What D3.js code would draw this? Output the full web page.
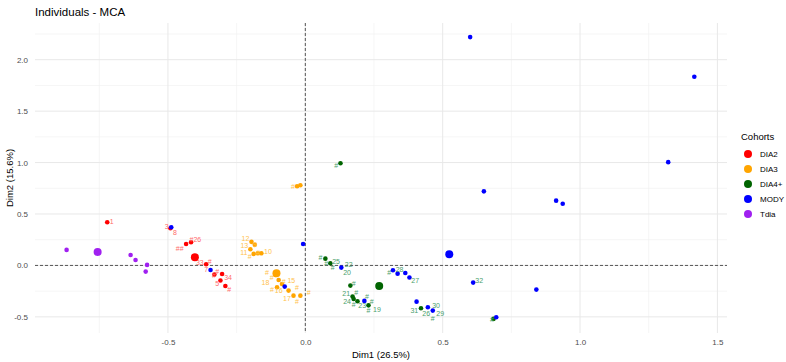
<!DOCTYPE html>
<html>
<head>
<meta charset="utf-8">
<script src="https://cdn.jsdelivr.net/npm/d3@7"></script>
<style>
  body { margin: 0; background: #fff; }
  svg { font-family: Arial, "Liberation Sans", sans-serif; }
</style>
</head>
<body>
<div id="chart"></div>
<script>
// cohorts + colours
var cohorts = ["DIA2", "DIA3", "DIA4+", "MODY", "Tdia"];
var cohortColors = ["#FF0000", "#FFA500", "#006400", "#0000FF", "#A020F0"];
var labelColors = ["#ff6b6b", "#ffc24d", "#4aa06c", "#4aa06c", "#c070f0"];

// individuals (Dim1, Dim2)
var dia2Points = [
    [-0.721, 0.420], [-0.491, 0.362], [-0.434, 0.209], [-0.416, 0.226],
    [-0.361, 0.012], [-0.331, -0.089], [-0.303, -0.083], [-0.309, -0.147],
    [-0.291, -0.200]
];
var dia3Points = [
    [-0.196, 0.229], [-0.184, 0.200], [-0.200, 0.157], [-0.188, 0.112],
    [-0.173, 0.118], [-0.160, 0.118], [-0.109, -0.092], [-0.097, -0.141],
    [-0.103, -0.212], [-0.085, -0.180], [-0.061, -0.245], [-0.043, -0.294],
    [-0.018, -0.294], [-0.030, 0.770], [-0.018, 0.780]
];
var dia4Points = [
    [0.128, 0.994], [0.073, 0.066], [0.091, 0.021], [0.164, -0.196],
    [0.172, -0.303], [0.176, -0.326], [0.190, -0.349], [0.230, -0.388],
    [0.421, -0.417], [0.685, -0.520]
];
var modyPoints = [
    [-0.488, 0.371], [-0.345, -0.044], [-0.075, -0.206], [-0.008, 0.209],
    [0.131, -0.021], [0.215, -0.345], [0.319, -0.047], [0.336, -0.080],
    [0.364, -0.073], [0.379, -0.118], [0.405, -0.352], [0.446, -0.407],
    [0.464, -0.439], [0.611, -0.167], [0.695, -0.504], [0.841, -0.235],
    [0.600, 2.220], [0.650, 0.720], [0.913, 0.630], [0.937, 0.600],
    [1.321, 1.004], [1.416, 1.834]
];
var tdiaPoints = [
    [-0.869, 0.151], [-0.636, 0.102], [-0.618, 0.053], [-0.576, 0.005],
    [-0.581, -0.060]
];
var cohortPoints = [dia2Points, dia3Points, dia4Points, modyPoints, tdiaPoints];

// group mean points
var centroidX = [-0.402, -0.105, 0.269, 0.524, -0.756];
var centroidY = [0.080, -0.076, -0.200, 0.109, 0.131];

// text labels: text, Dim1, Dim2, cohort index
var pointLabels = [
    ["1", -0.705, 0.426, 0], ["3", -0.505, 0.377, 0], ["8", -0.475, 0.319, 0],
    ["##", -0.457, 0.160, 0], ["#26", -0.400, 0.255, 0], ["33", -0.384, 0.027, 0],
    ["#", -0.348, 0.037, 0], ["7", -0.361, -0.044, 0], ["#", -0.321, -0.060, 0],
    ["#", -0.333, -0.102, 0], ["34", -0.281, -0.115, 0], ["5", -0.321, -0.173, 0],
    ["#", -0.277, -0.232, 0],
    ["12", -0.218, 0.258, 1], ["13", -0.222, 0.196, 1], ["9", -0.182, 0.200, 1],
    ["11", -0.224, 0.128, 1], ["#", -0.202, 0.086, 1], ["#", -0.172, 0.128, 1],
    ["10", -0.136, 0.134, 1], ["#", -0.140, -0.072, 1], ["#", -0.122, -0.118, 1],
    ["18", -0.145, -0.162, 1], ["#", -0.079, -0.154, 1], ["15", -0.051, -0.151, 1],
    ["#", -0.121, -0.232, 1], ["16", -0.097, -0.245, 1], ["#", -0.030, -0.212, 1],
    ["17", -0.067, -0.326, 1], ["#", -0.030, -0.350, 1], ["#", 0.012, -0.261, 1],
    ["#", -0.045, 0.770, 1],
    ["#", 0.112, 0.968, 2], ["#", 0.055, 0.080, 2], ["#", 0.076, 0.021, 2],
    ["25", 0.112, 0.037, 2], ["#", 0.100, -0.024, 2], ["22", 0.158, 0.005, 3],
    ["20", 0.152, -0.070, 3], ["#", 0.176, -0.180, 2], ["21", 0.149, -0.271, 2],
    ["#", 0.185, -0.264, 2], ["#", 0.224, -0.303, 2], ["24", 0.152, -0.349, 2],
    ["#", 0.176, -0.384, 2], ["#", 0.242, -0.349, 2], ["23", 0.207, -0.394, 2],
    ["19", 0.261, -0.426, 2], ["#", 0.230, -0.443, 2], ["#", 0.305, -0.066, 3],
    ["28", 0.343, -0.044, 3], ["27", 0.400, -0.151, 3], ["31", 0.397, -0.443, 2],
    ["30", 0.476, -0.391, 3], ["26", 0.440, -0.465, 3], ["29", 0.491, -0.465, 3],
    ["#", 0.464, -0.517, 2], ["32", 0.633, -0.148, 3], ["#", 0.679, -0.530, 2]
];

var xMajor = [-0.5, 0, 0.5, 1, 1.5];
var xMinor = [-0.75, -0.25, 0.25, 0.75, 1.25];
var yMajor = [-0.5, 0, 0.5, 1, 1.5, 2];
var yMinor = [-0.25, 0.25, 0.75, 1.25, 1.75, 2.25];

var width = 786, height = 362;
var panel = {left: 35, right: 727, top: 23, bottom: 333};

var svg = d3.select('#chart').append('svg')
    .attr('width', width)
    .attr('height', height);

var x = d3.scaleLinear().domain([-0.984, 1.535]).range([panel.left, panel.right]);
var y = d3.scaleLinear().domain([-0.657, 2.357]).range([panel.bottom, panel.top]);

// grid
var grid = svg.append('g');
grid.selectAll('.vminor').data(xMinor).enter().append('line')
    .attr('x1', function(d){ return x(d); }).attr('x2', function(d){ return x(d); })
    .attr('y1', panel.top).attr('y2', panel.bottom)
    .style('stroke', '#f0f0f0').style('stroke-width', 0.7);
grid.selectAll('.hminor').data(yMinor).enter().append('line')
    .attr('y1', function(d){ return y(d); }).attr('y2', function(d){ return y(d); })
    .attr('x1', panel.left).attr('x2', panel.right)
    .style('stroke', '#f0f0f0').style('stroke-width', 0.7);
grid.selectAll('.vmajor').data(xMajor).enter().append('line')
    .attr('x1', function(d){ return x(d); }).attr('x2', function(d){ return x(d); })
    .attr('y1', panel.top).attr('y2', panel.bottom)
    .style('stroke', '#e8e8e8').style('stroke-width', 1);
grid.selectAll('.hmajor').data(yMajor).enter().append('line')
    .attr('y1', function(d){ return y(d); }).attr('y2', function(d){ return y(d); })
    .attr('x1', panel.left).attr('x2', panel.right)
    .style('stroke', '#e8e8e8').style('stroke-width', 1);

// zero lines
svg.append('line')
    .attr('x1', panel.left).attr('x2', panel.right)
    .attr('y1', y(0)).attr('y2', y(0))
    .style('stroke', '#444').style('stroke-width', 0.9)
    .style('stroke-dasharray', '3,2');
svg.append('line')
    .attr('x1', x(0)).attr('x2', x(0))
    .attr('y1', panel.top).attr('y2', panel.bottom)
    .style('stroke', '#444').style('stroke-width', 0.9)
    .style('stroke-dasharray', '3,2');

// axes (text only, theme_minimal style)
var xAxis = svg.append('g')
    .attr('transform', 'translate(0,' + (panel.bottom + 3) + ')')
    .call(d3.axisBottom(x).tickValues(xMajor).tickSize(0).tickFormat(d3.format('.1f')));
var yAxis = svg.append('g')
    .attr('transform', 'translate(' + (panel.left - 4) + ',0)')
    .call(d3.axisLeft(y).tickValues(yMajor).tickSize(0).tickFormat(d3.format('.1f')));
[xAxis, yAxis].forEach(function(ax){
    ax.select('.domain').remove();
    ax.selectAll('text')
        .style('font-size', '8px')
        .style('fill', '#4d4d4d')
        .style('font-family', 'Arial, "Liberation Sans", sans-serif');
});
xAxis.selectAll('text').text(function(d){ return d3.format('.1f')(d).replace('\u2212', '-'); });
yAxis.selectAll('text').text(function(d){ return d3.format('.1f')(d).replace('\u2212', '-'); });

// points
cohortPoints.forEach(function(pts, i){
    svg.append('g').selectAll('circle').data(pts).enter().append('circle')
        .attr('cx', function(d){ return x(d[0]); })
        .attr('cy', function(d){ return y(d[1]); })
        .attr('r', 2.3)
        .style('fill', cohortColors[i]);
});

// labels
svg.append('g').selectAll('text').data(pointLabels).enter().append('text')
    .attr('x', function(d){ return x(d[1]); })
    .attr('y', function(d){ return y(d[2]); })
    .attr('text-anchor', 'middle')
    .attr('dy', '0.35em')
    .style('font-size', '7px')
    .style('fill', function(d){ return labelColors[d[3]]; })
    .text(function(d){ return d[0]; });

// mean points
svg.append('g').selectAll('circle').data(cohorts).enter().append('circle')
    .attr('cx', function(d, i){ return x(centroidX[i]); })
    .attr('cy', function(d, i){ return y(centroidY[i]); })
    .attr('r', 4)
    .style('fill', function(d, i){ return cohortColors[i]; });

// titles
svg.append('text')
    .attr('x', panel.left).attr('y', 16)
    .style('font-size', '11.5px').style('fill', '#000')
    .text('Individuals - MCA');
svg.append('text')
    .attr('x', (panel.left + panel.right) / 2).attr('y', 358)
    .attr('text-anchor', 'middle')
    .style('font-size', '9.5px').style('fill', '#000')
    .text('Dim1 (26.5%)');
svg.append('text')
    .attr('transform', 'translate(13,' + ((panel.top + panel.bottom) / 2) + ') rotate(-90)')
    .attr('text-anchor', 'middle')
    .style('font-size', '9.5px').style('fill', '#000')
    .text('Dim2 (15.6%)');

// legend
var legend = svg.append('g').attr('transform', 'translate(741,0)');
legend.append('text')
    .attr('x', 0).attr('y', 140)
    .style('font-size', '9.5px').style('fill', '#000')
    .text('Cohorts');
var item = legend.selectAll('.item').data(cohorts).enter().append('g')
    .attr('transform', function(d, i){ return 'translate(0,' + (154 + i * 15) + ')'; });
item.append('circle')
    .attr('cx', 7).attr('cy', 0).attr('r', 4)
    .style('fill', function(d, i){ return cohortColors[i]; });
item.append('text')
    .attr('x', 19).attr('dy', '0.35em')
    .style('font-size', '8px').style('fill', '#000')
    .text(function(d){ return d; });
</script>
</body>
</html>
